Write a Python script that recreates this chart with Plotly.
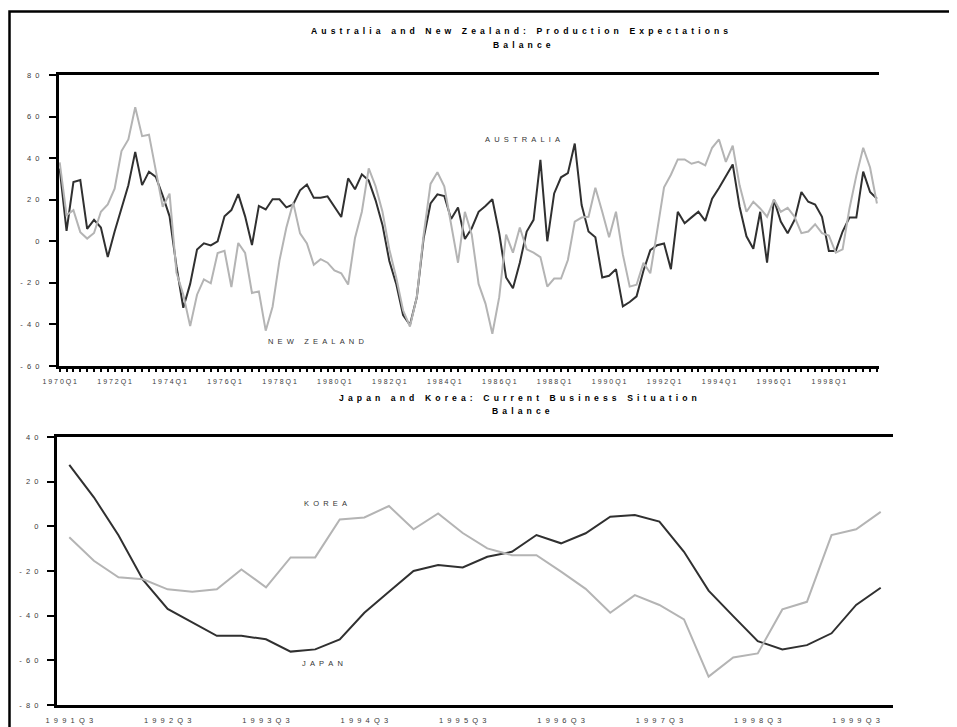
import plotly.graph_objects as go

# ---------------- data ----------------
quarters_top = [f"{y}Q{q}" for y in range(1970, 2000) for q in range(1, 5)]

australia = [
    35, 5, 28.5, 29.5, 6, 10.3, 6.6, -7.6, 4.7, 16,
    27, 43, 27, 33.5, 31, 22, 12, -12, -32, -20.5,
    -4, -1, -2, 0, 12, 15, 22.7, 12, -1.8, 17,
    15.3, 20.2, 20.2, 16.3, 17.7, 24.5, 27.3, 20.9, 20.9, 21.6,
    16.6, 11.7, 30.3, 25, 32.2, 29.2, 19.7, 7.9, -9.5, -20.5,
    -35.5, -40.3, -26.9, 1.6, 18.2, 22.6, 21.8, 10.7, 16.3, 1.1,
    6.3, 14.2, 17, 20.2, 3.9, -17.4, -22.6, -10.3, 4.7, 10.3,
    39.2, 0, 23, 30.8, 32.8, 47, 17.4, 4.7, 1.9, -17.4,
    -16.6, -13.4, -31.3, -29.2, -26.5, -14.2, -4.3, -1.9, -1.1, -13.4,
    14.2, 8.7, 11.5, 14.2, 9.8, 20.5, 25.6, 31.3, 37, 16.6,
    2.4, -3.6, 14.2, -10.3, 20.1, 9.5, 3.9, 10.3, 23.7, 19,
    17.7, 11.8, -4.7, -4.7, 4.7, 11.4, 11.4, 33.5, 23.7, 20.5,
]

new_zealand = [
    38, 12.6, 15, 4.4, 1.3, 4, 14.2, 17.7, 25.3, 43.4,
    49, 64.5, 50.6, 51.3, 34, 16.6, 22.9, -15, -25.7, -40.8,
    -25.7, -18.3, -20.2, -5.6, -4.6, -22, -0.8, -5.6, -24.9, -24.1,
    -43, -31.5, -9.3, 6.5, 18.6, 3.8, -1, -11.3, -8.6, -10.3,
    -14, -15.4, -20.8, 1.6, 14.2, 35.1, 26.5, 14.2, -3.9, -17.4,
    -33.2, -41, -26.9, 3.2, 27.6, 33.2, 26.5, 7.9, -10.3, 14.2,
    3.2, -20.5, -30, -44.5, -26.9, 3.2, -5.5, 6.6, -3.9, -5.5,
    -7.6, -21.8, -17.9, -17.9, -9, 9.5, 11.4, 11.8, 25.8, 14.2,
    1.9, 14.2, -6.3, -21.8, -20.9, -10.3, -15.4, 5, 26, 32,
    39.4, 39.4, 37.3, 38.2, 36.5, 45, 49, 38.2, 46, 26.9,
    14.2, 19, 15.8, 11.8, 20.1, 14.2, 16.1, 11.8, 3.9, 4.7,
    8.2, 3.9, 2.8, -5.5, -3.9, 15.8, 31.6, 45, 35.5, 18.2,
]

quarters_bottom = (["1991Q3", "1991Q4"]
                   + [f"{y}Q{q}" for y in range(1992, 2000) for q in range(1, 5)])

japan = [
    27.5, 13, -4, -24, -37, -43, -49, -49, -50.6, -56.1,
    -55.1, -50.6, -38.7, -29.3, -20, -17.3, -18.4, -13.6, -11.4, -3.9,
    -7.6, -3.1, 4.3, 5.1, 2.1, -11.4, -28.8, -40.2, -51.4, -55.1,
    -53.2, -47.9, -35.2, -27.5,
]

korea = [
    -4.9, -15.4, -22.8, -23.7, -28.2, -29.3, -28.2, -19.3, -27.3, -13.9,
    -13.9, 3.1, 4.0, 9.1, -1.3, 5.8, -3, -9.9, -12.9, -12.9,
    -20.3, -28, -38.7, -30.8, -35.2, -41.7, -67.3, -58.7, -56.9, -37.2,
    -33.8, -3.9, -1.3, 6.5,
]

top_y_ticks = [-60, -40, -20, 0, 20, 40, 60, 80]
bot_y_ticks = [-80, -60, -40, -20, 0, 20, 40]

# ---------------- helpers ----------------
NB = "\u00a0"
TH = "\u2009"


def sp(s, sep=NB):
    return sep.join(s)


FONT = "Liberation Sans, Arial, sans-serif"
DARK = "#303030"
LIGHT = "#b4b4b4"
TICKCOL = "#3a3a3a"

# the page puts the figure 8px in from the window's top-left corner
OFF = 8
W, H = 957 - OFF, 727 - OFF


def px_x(p):
    return (p - OFF) / W


def px_y(p):
    return 1 - (p - OFF) / H


X_TOP = [px_x(59), px_x(879)]
Y_TOP = [px_y(366), px_y(75)]
X_BOT = [px_x(57), px_x(893)]
Y_BOT = [px_y(705), px_y(437)]

n_top = len(quarters_top)
n_bot = len(quarters_bottom)
x_top = list(range(n_top))
x_bot = list(range(n_bot))

fig = go.Figure()

fig.add_trace(go.Scatter(x=x_top, y=australia, mode="lines", name="Australia",
                         customdata=quarters_top,
                         line=dict(color=DARK, width=2), xaxis="x", yaxis="y"))
fig.add_trace(go.Scatter(x=x_top, y=new_zealand, mode="lines", name="New Zealand",
                         customdata=quarters_top,
                         line=dict(color=LIGHT, width=2), xaxis="x", yaxis="y"))
fig.add_trace(go.Scatter(x=x_bot, y=japan, mode="lines", name="Japan",
                         customdata=quarters_bottom,
                         line=dict(color=DARK, width=2), xaxis="x2", yaxis="y2"))
fig.add_trace(go.Scatter(x=x_bot, y=korea, mode="lines", name="Korea",
                         customdata=quarters_bottom,
                         line=dict(color=LIGHT, width=2), xaxis="x2", yaxis="y2"))

common = dict(showgrid=False, zeroline=False, fixedrange=True, automargin=False)
tickfont_top = dict(family=FONT, size=7, color=TICKCOL)
tickfont = dict(family=FONT, size=7.5, color=TICKCOL)

top_x_text = [sp(q) if i % 8 == 0 and i < 116 else "" for i, q in enumerate(quarters_top)]
top_range = [-0.1, n_top - 1 + 0.3]
bot_range = [-0.5, n_bot - 0.5]
bot_bounds = [i - 0.5 for i in range(n_bot + 1)]
bot_lbl_vals = [i for i in x_bot if i % 4 == 0]
bot_lbl_text = [sp(quarters_bottom[i], NB + NB) for i in bot_lbl_vals]

fig.update_layout(
    width=W, height=H,
    margin=dict(l=0, r=0, t=0, b=0, pad=0),
    paper_bgcolor="white", plot_bgcolor="white",
    showlegend=False,
    # ---------- top panel ----------
    xaxis=dict(domain=X_TOP, anchor="y", range=top_range, **common,
               showline=True, linewidth=3, linecolor="black", mirror=True,
               tickmode="array", tickvals=x_top, ticktext=top_x_text,
               ticks="outside", ticklen=3, tickwidth=2, tickcolor="black",
               tickfont=tickfont_top, ticklabelstandoff=4),
    xaxis3=dict(domain=X_TOP, overlaying="x", anchor="y", range=top_range, **common,
                showline=False, tickmode="array", tickvals=x_top,
                ticks="inside", ticklen=4, tickwidth=2, tickcolor="black",
                showticklabels=False),
    yaxis=dict(domain=Y_TOP, anchor="x", range=[-60, 80], **common,
               showline=True, linewidth=3, linecolor="black",
               tickmode="array", tickvals=top_y_ticks,
               ticktext=[sp(str(v), NB + NB) for v in top_y_ticks],
               ticks="outside", ticklen=7, tickwidth=2, tickcolor="black",
               tickfont=tickfont, ticklabelstandoff=8),
    yaxis3=dict(overlaying="y", anchor="x", side="left", range=[-60, 80], **common,
                showline=False, tickmode="array", tickvals=top_y_ticks,
                ticks="inside", ticklen=3, tickwidth=2, tickcolor="black",
                showticklabels=False),
    yaxis4=dict(overlaying="y", anchor="x", side="right", range=[-60, 80], **common,
                showline=True, linewidth=3, linecolor="black",
                tickmode="array", tickvals=top_y_ticks,
                ticktext=[sp(str(v), NB + TH) for v in top_y_ticks],
                ticks="outside", ticklen=5, tickwidth=2, tickcolor="black",
                tickfont=tickfont, ticklabelstandoff=6),
    yaxis5=dict(overlaying="y", anchor="x", side="right", range=[-60, 80], **common,
                showline=False, tickmode="array", tickvals=top_y_ticks,
                ticks="inside", ticklen=5, tickwidth=2, tickcolor="black",
                showticklabels=False),
    # ---------- bottom panel ----------
    xaxis2=dict(domain=X_BOT, anchor="y2", range=bot_range, **common,
                showline=True, linewidth=3, linecolor="black", mirror=True,
                tickmode="array", tickvals=bot_lbl_vals, ticktext=bot_lbl_text,
                ticks="", tickfont=tickfont, ticklabelstandoff=6),
    xaxis4=dict(domain=X_BOT, overlaying="x2", anchor="y2", range=bot_range, **common,
                showline=False, tickmode="array", tickvals=bot_bounds,
                ticks="outside", ticklen=3, tickwidth=2, tickcolor="black",
                showticklabels=False),
    xaxis5=dict(domain=X_BOT, overlaying="x2", anchor="y2", range=bot_range, **common,
                showline=False, tickmode="array", tickvals=bot_bounds,
                ticks="inside", ticklen=4, tickwidth=2, tickcolor="black",
                showticklabels=False),
    yaxis2=dict(domain=Y_BOT, anchor="x2", range=[-80, 40], **common,
                showline=True, linewidth=3, linecolor="black",
                tickmode="array", tickvals=bot_y_ticks,
                ticktext=[sp(str(v), NB + NB) for v in bot_y_ticks],
                ticks="outside", ticklen=7, tickwidth=2, tickcolor="black",
                tickfont=tickfont, ticklabelstandoff=7),
    yaxis6=dict(overlaying="y2", anchor="x2", side="left", range=[-80, 40], **common,
                showline=False, tickmode="array", tickvals=bot_y_ticks,
                ticks="inside", ticklen=3, tickwidth=2, tickcolor="black",
                showticklabels=False),
    yaxis7=dict(overlaying="y2", anchor="x2", side="right", range=[-80, 40], **common,
                showline=True, linewidth=3, linecolor="black",
                tickmode="array", tickvals=bot_y_ticks,
                ticktext=[sp(str(v), NB + TH) for v in bot_y_ticks],
                ticks="outside", ticklen=5, tickwidth=2, tickcolor="black",
                tickfont=tickfont, ticklabelstandoff=5),
    yaxis8=dict(overlaying="y2", anchor="x2", side="right", range=[-80, 40], **common,
                showline=False, tickmode="array", tickvals=bot_y_ticks,
                ticks="inside", ticklen=5, tickwidth=2, tickcolor="black",
                showticklabels=False),
)

# outer frame
fig.add_shape(type="rect", xref="paper", yref="paper",
              x0=px_x(9.5), y0=-0.05, x1=1.05, y1=px_y(11.5),
              line=dict(color="black", width=2.5), fillcolor="rgba(0,0,0,0)",
              layer="below")

title_font = dict(family=FONT, size=8.6, color="black")


def title(text, x, y):
    fig.add_annotation(text="<b>" + sp(text, NB + TH) + "</b>", xref="paper", yref="paper",
                       x=px_x(x), y=px_y(y), showarrow=False, xanchor="center",
                       yanchor="middle", font=title_font)


title("Australia and New Zealand: Production Expectations", 520, 31)
title("Balance", 522, 45)
title("Japan and Korea: Current Business Situation", 518, 398)
title("Balance", 521, 411)

label_font = dict(family=FONT, size=7.5, color="#333333")
fig.add_annotation(text=sp("AUSTRALIA", NB + NB), x=67.4, y=49, xref="x", yref="y",
                   showarrow=False, font=label_font)
fig.add_annotation(text=sp("NEW ZEALAND", NB + NB), x=37.3, y=-48.3, xref="x", yref="y",
                   showarrow=False, font=label_font)
fig.add_annotation(text=sp("KOREA", NB + NB), x=10.4, y=10.4, xref="x2", yref="y2",
                   showarrow=False, font=label_font)
fig.add_annotation(text=sp("JAPAN", NB + NB), x=10.3, y=-61.2, xref="x2", yref="y2",
                   showarrow=False, font=label_font)

fig.write_html("out.html")
